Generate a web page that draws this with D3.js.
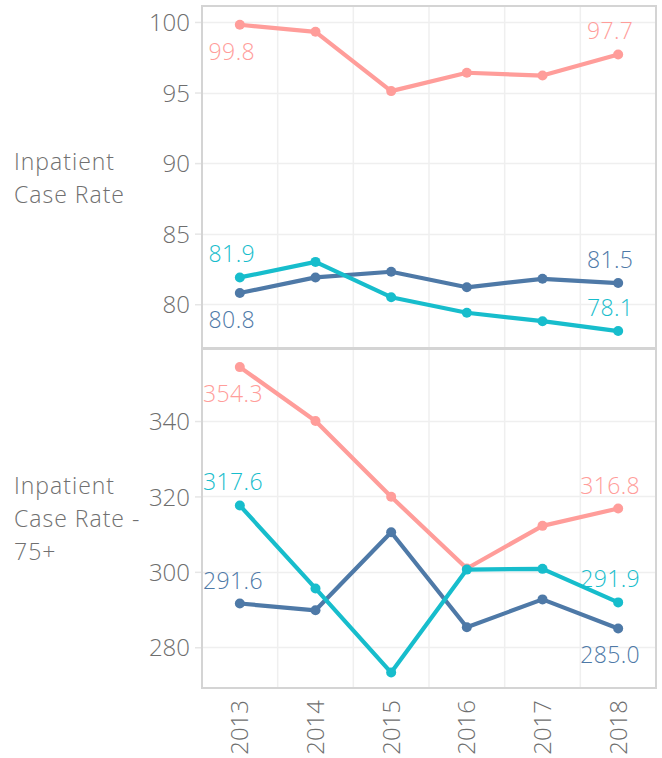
<!DOCTYPE html>
<html>
<head>
<meta charset="UTF-8">
<title>Inpatient case rate</title>
<script src="https://cdn.jsdelivr.net/npm/d3@7"></script>
<style>
  body { margin: 0; background: #fff; }
  text { font-family: "Open Sans", "Lato", sans-serif; font-weight: 300; }
</style>
</head>
<body>
<script>
// years on the x axis
var years = ["2013", "2014", "2015", "2016", "2017", "2018"];

// Inpatient Case Rate
var rateRed  = [99.8, 99.3, 95.1, 96.4, 96.2, 97.7];
var rateBlue = [80.8, 81.9, 82.3, 81.2, 81.8, 81.5];
var rateTeal = [81.9, 83.0, 80.5, 79.4, 78.8, 78.1];
var rateTicks = [80, 85, 90, 95, 100];

// Inpatient Case Rate - 75+
var oldRed  = [354.3, 340.0, 319.9, 300.9, 312.2, 316.8];
var oldBlue = [291.6, 289.8, 310.5, 285.3, 292.7, 285.0];
var oldTeal = [317.6, 295.6, 273.3, 300.6, 300.8, 291.9];
var oldTicks = [280, 300, 320, 340];

var colors = { red: "#ff9d9a", blue: "#4e79a7", teal: "#17bdcc" };

var width = 662, height = 758;
var left = 202, right = 656;

var svg = d3.select("body").append("svg")
  .attr("width", width)
  .attr("height", height);

var x = d3.scaleBand().domain(years).range([left, right]).padding(0);

// panels: label position (first / last) is "a" above or "b" below
var panels = [
  {
    title: ["Inpatient", "Case Rate"], titleY: 170,
    top: 6, bottom: 348, domain: [76.9, 101.13], ticks: rateTicks,
    series: [
      { c: "red",  v: rateRed,  first: "b", last: "a" },
      { c: "blue", v: rateBlue, first: "b", last: "a" },
      { c: "teal", v: rateTeal, first: "a", last: "a" }
    ]
  },
  {
    title: ["Inpatient", "Case Rate -", "75+"], titleY: 494,
    top: 349, bottom: 688, domain: [269.2, 359.1], ticks: oldTicks,
    series: [
      { c: "red",  v: oldRed,  first: "b", last: "a" },
      { c: "blue", v: oldBlue, first: "a", last: "b" },
      { c: "teal", v: oldTeal, first: "a", last: "a" }
    ]
  }
];

panels.forEach(function(p) {
  var y = d3.scaleLinear().domain(p.domain).range([p.bottom, p.top]);
  var g = svg.append("g");

  // horizontal grid
  g.selectAll(".hg").data(p.ticks).enter().append("line")
    .attr("x1", left).attr("x2", right)
    .attr("y1", function(d) { return Math.round(y(d)) + 0.5; })
    .attr("y2", function(d) { return Math.round(y(d)) + 0.5; })
    .attr("stroke", "#efefef").attr("stroke-width", 1.5);

  // vertical grid at band edges
  g.selectAll(".vg").data(years.slice(1)).enter().append("line")
    .attr("x1", function(d) { return x(d); })
    .attr("x2", function(d) { return x(d); })
    .attr("y1", p.top).attr("y2", p.bottom)
    .attr("stroke", "#efefef").attr("stroke-width", 1.5);

  // axis
  var axis = d3.axisLeft(y).tickValues(p.ticks).tickSize(7).tickPadding(5);
  var ax = g.append("g").attr("transform", "translate(" + left + ",0)").call(axis);
  ax.select(".domain").remove();
  ax.selectAll(".tick line").attr("stroke", "#e6e6e6").attr("stroke-width", 1.5);
  ax.selectAll(".tick text")
    .attr("fill", "#6e6e6e")
    .style("font-size", "24px")
    .style("font-family", null)
    .attr("dy", "0.36em");

  // frame
  g.append("rect")
    .attr("x", left).attr("y", p.top)
    .attr("width", right - left).attr("height", p.bottom - p.top)
    .attr("fill", "none").attr("stroke", "#d4d4d4").attr("stroke-width", 2);

  // title
  var t = g.append("text")
    .attr("x", 14).attr("y", p.titleY)
    .attr("fill", "#707070")
    .style("font-size", "23px")
    .style("letter-spacing", "1px");
  p.title.forEach(function(s, i) {
    t.append("tspan").attr("x", 14).attr("dy", i === 0 ? 0 : 33).text(s);
  });

  var line = d3.line()
    .x(function(d, i) { return x(years[i]) + x.bandwidth() / 2; })
    .y(function(d) { return y(d); });

  p.series.forEach(function(s) {
    var col = colors[s.c];
    g.append("path")
      .attr("d", line(s.v))
      .attr("fill", "none")
      .attr("stroke", col)
      .attr("stroke-width", 4.2)
      .attr("stroke-linejoin", "round");
    g.selectAll(null).data(s.v).enter().append("circle")
      .attr("cx", function(d, i) { return x(years[i]) + x.bandwidth() / 2; })
      .attr("cy", function(d) { return y(d); })
      .attr("r", 5)
      .attr("fill", col);

    // end labels
    [[0, s.first], [s.v.length - 1, s.last]].forEach(function(e) {
      var i = e[0], v = s.v[i];
      var cx = x(years[i]) + x.bandwidth() / 2 - 8;
      var ty = y(v) + (e[1] === "a" ? -15 : 35);
      var lab = g.append("text")
        .attr("y", ty)
        .attr("fill", col)
        .style("font-size", "23px")
        .style("letter-spacing", "0.4px")
        .text(v.toFixed(1));
      var w = lab.node().getComputedTextLength();
      var lx = Math.max(left + 1, Math.min(right - 2 - w, cx - w / 2));
      lab.attr("x", lx);
    });
  });
});

// x labels (rotated)
svg.selectAll(".xl").data(years).enter().append("text")
  .attr("transform", function(d) {
    return "translate(" + (x(d) + x.bandwidth() / 2) + ",700) rotate(-90)";
  })
  .attr("text-anchor", "end")
  .attr("dy", "0.36em")
  .attr("fill", "#6e6e6e")
  .style("font-size", "24px")
  .text(function(d) { return d; });
</script>
</body>
</html>
